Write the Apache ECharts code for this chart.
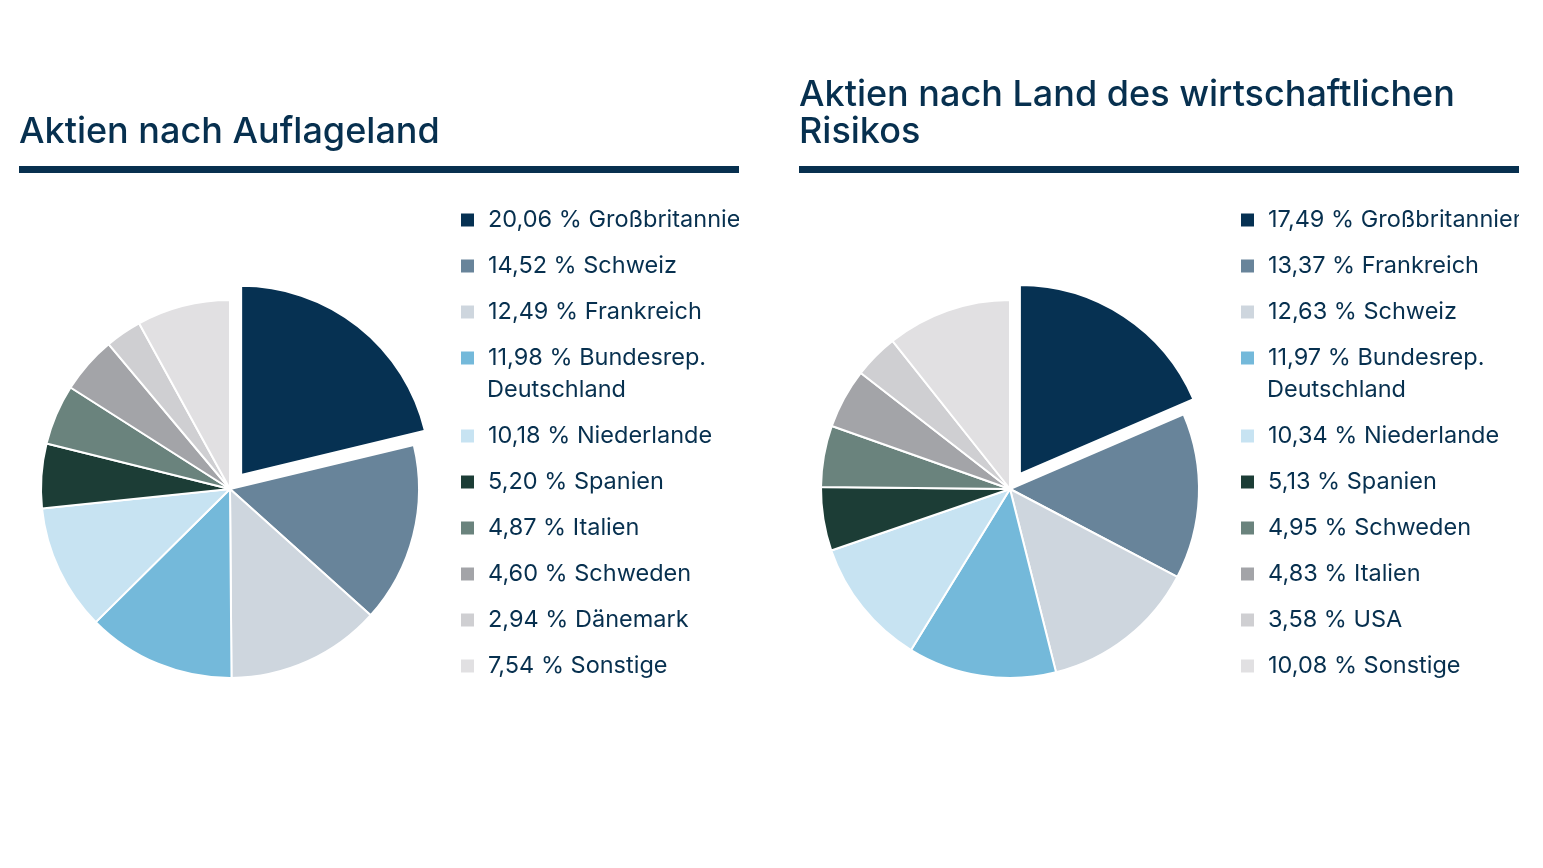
<!DOCTYPE html>
<html>
<head>
<meta charset="utf-8">
<title>Aktien nach Ländern</title>
<script src="https://cdn.jsdelivr.net/npm/echarts@6/dist/echarts.min.js"></script>
<style>
  html, body { margin: 0; padding: 0; background: #fff; }
  .panel { position: absolute; top: 0; width: 720px; height: 868px; }
  #left { left: 19px; }
  #right { left: 799px; }
</style>
</head>
<body>
<div id="left" class="panel"></div>
<div id="right" class="panel"></div>
<script>
// Daten: Anteil in % je Land
const leftTitle = 'Aktien nach Auflageland';
const leftNames = ['Großbritannien', 'Schweiz', 'Frankreich', 'Bundesrep.\nDeutschland', 'Niederlande',
    'Spanien', 'Italien', 'Schweden', 'Dänemark', 'Sonstige'];
const leftValues = [20.06, 14.52, 12.49, 11.98, 10.18, 5.20, 4.87, 4.60, 2.94, 7.54];

const rightTitle = 'Aktien nach Land des wirtschaftlichen Risikos';
const rightNames = ['Großbritannien', 'Frankreich', 'Schweiz', 'Bundesrep.\nDeutschland', 'Niederlande',
    'Spanien', 'Schweden', 'Italien', 'USA', 'Sonstige'];
const rightValues = [17.49, 13.37, 12.63, 11.97, 10.34, 5.13, 4.95, 4.83, 3.58, 10.08];

const palette = ['#063152', '#68849a', '#ced6de', '#74b9da', '#c7e3f2',
    '#1c3d36', '#6a837d', '#a3a4a8', '#cfcfd2', '#e1e0e2'];

const navy = '#07304f';
const font = 'Inter, "Noto Sans", sans-serif';
const legendFontSize = 23.5;
const rowStep = 46;      // Abstand der Legendenzeilen
const lineStep = 32;     // Zeilenhöhe innerhalb eines Eintrags
const legendLeft = 440;
const iconSize = 15;
const firstRow = 220;    // Mitte der ersten Legendenzeile

let fmt = (v) => v.toFixed(2).replace('.', ',');

let legendBlock = (names, lookup, top) => ({
    orient: 'vertical',
    left: legendLeft,
    top: top,
    padding: 0,
    itemGap: rowStep - lineStep,
    itemWidth: iconSize,
    itemHeight: iconSize,
    icon: 'rect',
    selectedMode: false,
    data: names,
    formatter: (name) => fmt(lookup[name]) + ' % ' + name.split('\n')[0],
    textStyle: {
        color: navy,
        fontFamily: font,
        fontSize: legendFontSize,
        lineHeight: lineStep,
        padding: [0, 0, 0, 8]
    }
});

let buildOption = (title, names, values, titleTop) => {
    let lookup = {};
    names.forEach((n, i) => { lookup[n] = values[i]; });

    // Legende wird am zweizeiligen Eintrag geteilt, die Folgezeile als Text ergänzt
    let k = names.findIndex((n) => n.indexOf('\n') >= 0);
    let rest = names[k].split('\n').slice(1);
    let legends = [
        legendBlock(names.slice(0, k + 1), lookup, firstRow - lineStep / 2),
        legendBlock(names.slice(k + 1), lookup,
            firstRow + rowStep * (k + 1) + lineStep * rest.length - lineStep / 2)
    ];
    let extraText = rest.map((t, j) => ({
        type: 'text',
        x: legendLeft + iconSize + 5 + 8,
        y: firstRow + rowStep * k + lineStep * (j + 1),
        style: {
            text: t,
            fill: navy,
            fontFamily: font,
            fontSize: legendFontSize,
            verticalAlign: 'middle'
        }
    }));

    return {
        animation: false,
        color: palette,
        title: {
            text: title,
            left: 0,
            top: titleTop,
            padding: 0,
            textStyle: {
                color: navy,
                fontFamily: font,
                fontSize: 36,
                fontWeight: 500,
                lineHeight: 37,
                width: 720,
                overflow: 'break'
            }
        },
        graphic: [{
            type: 'rect',
            left: 0,
            top: 166,
            shape: { width: 720, height: 7 },
            style: { fill: navy }
        }].concat(extraText),
        legend: legends,
        series: [{
            type: 'pie',
            center: [211, 489],
            radius: 189,
            startAngle: 90,
            clockwise: true,
            selectedMode: 'single',
            selectedOffset: 18,
            label: { show: false },
            labelLine: { show: false },
            emphasis: { disabled: true },
            itemStyle: { borderColor: '#fff', borderWidth: 2 },
            data: names.map((n, i) => ({ name: n, value: values[i], selected: i === 0 }))
        }]
    };
};

let leftChart = echarts.init(document.getElementById('left'));
leftChart.setOption(buildOption(leftTitle, leftNames, leftValues, 114));

let rightChart = echarts.init(document.getElementById('right'));
rightChart.setOption(buildOption(rightTitle, rightNames, rightValues, 77));
</script>
</body>
</html>
